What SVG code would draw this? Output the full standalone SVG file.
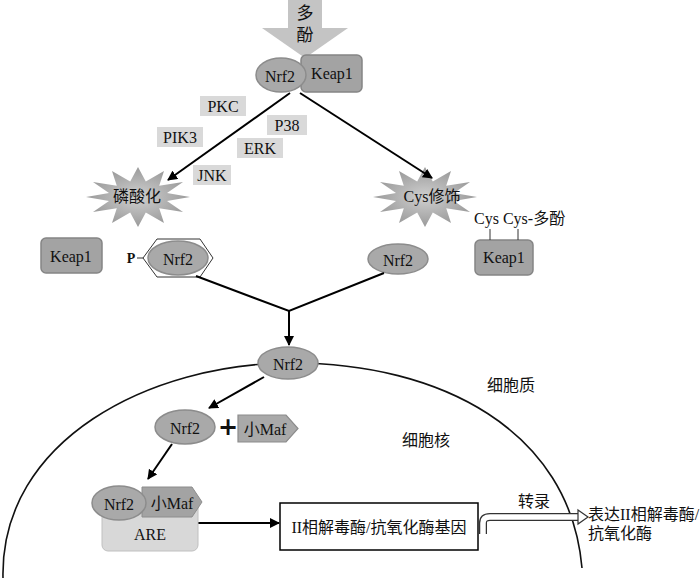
<svg xmlns="http://www.w3.org/2000/svg" width="700" height="578" viewBox="0 0 700 578">
<defs>
<style>
.t{font-family:"Liberation Serif","Noto Sans CJK SC",serif;font-size:16px;fill:#111;text-anchor:middle;dominant-baseline:central}
.c{font-family:"Liberation Serif","Noto Sans CJK SC",serif;font-size:16px;fill:#111}
.ell{fill:#a9a9a9;stroke:#8c8c8c;stroke-width:1.5}
.keap{fill:#a3a3a3;stroke:#858585;stroke-width:1.5}
.lab{fill:#d9d9d9}
.ln{stroke:#000;stroke-width:2;fill:none}
.thin{stroke:#333;stroke-width:1;fill:none}
</style>
<marker id="ah" viewBox="0 0 10 10" refX="9" refY="5" markerWidth="5" markerHeight="5" orient="auto" markerUnits="strokeWidth">
<path d="M0,0 L10,5 L0,10 z" fill="#000"/>
</marker>
<radialGradient id="sg" cx="0.5" cy="0.5" r="0.5">
<stop offset="0" stop-color="#d0d0d0"/>
<stop offset="1" stop-color="#9a9a9a"/>
</radialGradient>
<polygon id="star" points="52,0 29,4.1 45,15 21.2,11.3 26,26 7.8,15.5 0,30 -7.8,15.5 -26,26 -21.2,11.3 -45,15 -29,4.1 -52,0 -29,-4.1 -45,-15 -21.2,-11.3 -26,-26 -7.8,-15.5 0,-30 7.8,-15.5 26,-26 21.2,-11.3 45,-15 29,-4.1" fill="url(#sg)"/>
</defs>
<rect width="700" height="578" fill="#fff"/>

<!-- nucleus membrane -->
<path d="M3,578 C0,440 150,363 292,363 C440,363 570,430 582,568" fill="none" stroke="#111" stroke-width="1.6"/>

<g id="polyphenol">
<polygon points="288,0 322,0 322,28 348,28 305,58 262,28 288,28" fill="#c4c4c4"/>
<text class="t" x="305" y="13" style="font-size:17px">多</text>
<text class="t" x="305" y="35" style="font-size:17px">酚</text>
</g>

<g id="complex">
<rect class="keap" x="301" y="55" width="61" height="37" rx="5"/>
<ellipse class="ell" cx="281" cy="75" rx="25" ry="17"/>
<text class="t" x="280" y="76">Nrf2</text>
<text class="t" x="332" y="73">Keap1</text>
</g>

<g id="kinases">
<rect class="lab" x="200" y="96" width="46" height="20"/>
<text class="t" x="223" y="106">PKC</text>
<rect class="lab" x="267" y="115" width="40" height="20"/>
<text class="t" x="287" y="125">P38</text>
<rect class="lab" x="157" y="127" width="46" height="20"/>
<text class="t" x="180" y="137">PIK3</text>
<rect class="lab" x="237" y="138" width="46" height="20"/>
<text class="t" x="260" y="148">ERK</text>
<rect class="lab" x="193" y="165" width="38" height="20"/>
<text class="t" x="212" y="175">JNK</text>
</g>

<g id="phosphorylation">
<use href="#star" x="138" y="197"/>
<text class="t" x="137" y="196">磷酸化</text>
</g>

<g id="cysmod">
<use href="#star" x="425" y="197"/>
<text class="t" x="432" y="196">Cys修饰</text>
</g>

<g id="keap1-left">
<rect class="keap" x="41" y="238" width="61" height="35" rx="5"/>
<text class="t" x="71" y="256">Keap1</text>
</g>

<g id="p-nrf2">
<text class="t" x="131" y="258" style="font-weight:bold;font-size:14px">P</text>
<polygon points="143,258 157,239 200,239 213,258 200,277 157,277" fill="#fff" stroke="#333" stroke-width="1"/>
<ellipse class="ell" cx="178" cy="258" rx="30" ry="17"/>
<text class="t" x="178" y="259">Nrf2</text>
</g>

<g id="nrf2-right">
<ellipse class="ell" cx="398" cy="259" rx="30" ry="15"/>
<text class="t" x="398" y="260">Nrf2</text>
</g>

<g id="keap1-right">
<text class="c" x="474" y="224">Cys Cys-多酚</text>
<rect class="keap" x="475" y="240" width="58" height="35" rx="5"/>
<text class="t" x="504" y="257">Keap1</text>
</g>

<g id="connectors">
<line class="ln" x1="290" y1="93" x2="168" y2="180" marker-end="url(#ah)"/>
<line class="ln" x1="300" y1="93" x2="432" y2="178" marker-end="url(#ah)"/>
<polyline class="ln" points="196,276 289,311 384,273"/>
<line class="ln" x1="289" y1="311" x2="289" y2="345" marker-end="url(#ah)"/>
<line class="ln" x1="264" y1="377" x2="209" y2="408" marker-end="url(#ah)"/>
<line class="ln" x1="172" y1="444" x2="148" y2="479" marker-end="url(#ah)"/>
<line class="ln" x1="198" y1="523" x2="279" y2="523" marker-end="url(#ah)"/>
<line class="thin" x1="137" y1="258" x2="143" y2="258"/>
<line class="thin" x1="490" y1="229" x2="490" y2="240"/>
<line class="thin" x1="518" y1="229" x2="518" y2="240"/>
<path d="M483,534 L483,523 Q483,517 490,517 L579,517" fill="none" stroke="#333" stroke-width="8"/>
<path d="M483,534 L483,523 Q483,517 490,517 L580,517" fill="none" stroke="#fff" stroke-width="5.5"/>
<polygon points="578,510 588,517 578,524" fill="#fff" stroke="#333" stroke-width="1.2"/>
</g>

<g id="nrf2-center">
<ellipse class="ell" cx="288" cy="363" rx="30" ry="16"/>
<text class="t" x="288" y="364">Nrf2</text>
</g>

<text class="c" x="487" y="391">细胞质</text>
<text class="c" x="402" y="446">细胞核</text>

<g id="nrf2-nuc">
<ellipse class="ell" cx="185" cy="427" rx="30" ry="17"/>
<text class="t" x="185" y="428">Nrf2</text>
</g>
<g id="plus">
<text class="t" x="228" y="427" style="font-size:24px;font-weight:bold;font-family:'DejaVu Sans',sans-serif">+</text>
</g>
<g id="smaf">
<polygon points="238,415 286,415 298,428.5 286,442 238,442" fill="#a9a9a9" stroke="#8c8c8c" stroke-width="1.2"/>
<text class="t" x="265" y="429">小Maf</text>
</g>

<g id="are">
<rect x="102" y="497" width="96" height="54" rx="6" fill="#d8d8d8" stroke="#c0c0c0" stroke-width="1"/>
<text class="t" x="150" y="534">ARE</text>
<polygon points="142,487 192,487 202,502 192,517 142,517" fill="#a3a3a3" stroke="#8c8c8c" stroke-width="1"/>
<ellipse class="ell" cx="119" cy="503" rx="27" ry="17"/>
<text class="t" x="119" y="504">Nrf2</text>
<text class="t" x="172" y="503">小Maf</text>
</g>

<g id="gene">
<rect x="280" y="503" width="198" height="47" fill="#fff" stroke="#000" stroke-width="1.5"/>
<text class="t" x="379" y="527">II相解毒酶/抗氧化酶基因</text>
</g>

<text class="c" x="518" y="507">转录</text>
<g id="expression">
<text class="c" x="588" y="520">表达II相解毒酶/</text>
<text class="c" x="588" y="539">抗氧化酶</text>
</g>
</svg>
